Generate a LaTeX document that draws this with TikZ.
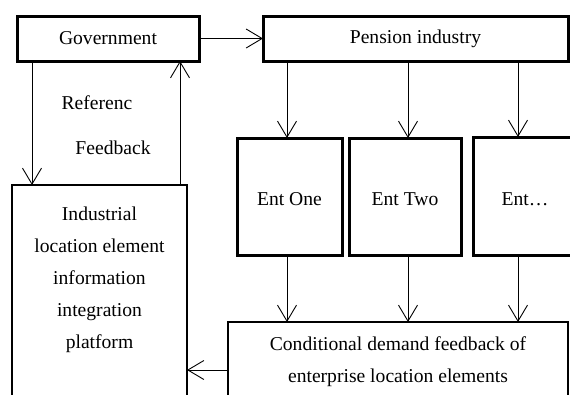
\documentclass[tikz,border=0pt]{standalone}
\usepackage{fontspec}
\setmainfont{Liberation Serif}
\usetikzlibrary{arrows.meta}
\begin{document}
\begin{tikzpicture}[x=1pt,y=-1pt,
  every node/.style={font=\fontsize{19.6}{32}\selectfont, inner sep=0pt, outer sep=0pt},
  thickbox/.style={draw, line width=3pt, minimum width=#1},
  midbox/.style={draw, line width=2pt},
  arr/.style={line width=0.9pt, -{Straight Barb[length=16pt,width=19pt,line width=0.9pt]}}]
\useasboundingbox (0,0) rectangle (570,394);
\clip (0,0) rectangle (570,394);
\node (gov) [thickbox=182, minimum height=45] at (108,38.5) {Government};
\node (pen) [thickbox=305, minimum height=45] at (415.5,38.5) {Pension industry};
\node (e1) [thickbox=105, minimum height=117, text height=18pt, text depth=0pt] at (289.5,196.5) {Ent One};
\node (e2) [thickbox=112, minimum height=117, text height=18pt, text depth=0pt] at (405,196.5) {Ent Two};
\node (e3) [thickbox=104, minimum height=118, text height=18pt, text depth=0pt] at (525,196) {Ent…};
\node (plat) [midbox, minimum width=175, minimum height=240] at (99.5,305) {};
\node (platt) [align=center] at (99.5,280) {Industrial\\location element\\information\\integration\\platform};
\node (cond) [midbox, minimum width=340, minimum height=80, align=center] at (398,362) {Conditional demand feedback of\\enterprise location elements};
\node (ref) at (97,103) {Referenc};
\node (fb) at (113,148) {Feedback};
% arrows
\draw[arr] (gov.east) -- (pen.west);
\draw[arr] ([xshift=15pt]gov.south west) -- ([xshift=15pt]gov.south west |- plat.north);
\draw[arr] ([xshift=-7pt]plat.north east) -- ([xshift=-7pt]plat.north east |- gov.south);
\draw[arr] ([xshift=-2.5pt]e1.north |- pen.south) -- ([xshift=-2.5pt]e1.north);
\draw[arr] ([xshift=3pt]e2.north |- pen.south) -- ([xshift=3pt]e2.north);
\draw[arr] ([xshift=-7pt]e3.north |- pen.south) -- ([xshift=-7pt]e3.north);
\draw[arr] ([xshift=-2.5pt]e1.south) -- ([xshift=-2.5pt]e1.south |- cond.north);
\draw[arr] ([xshift=3pt]e2.south) -- ([xshift=3pt]e2.south |- cond.north);
\draw[arr] ([xshift=-7pt]e3.south) -- ([xshift=-7pt]e3.south |- cond.north);
\draw[arr] ([yshift=-8pt]cond.west) -- ([yshift=-8pt]cond.west -| plat.east);
\end{tikzpicture}
\end{document}
